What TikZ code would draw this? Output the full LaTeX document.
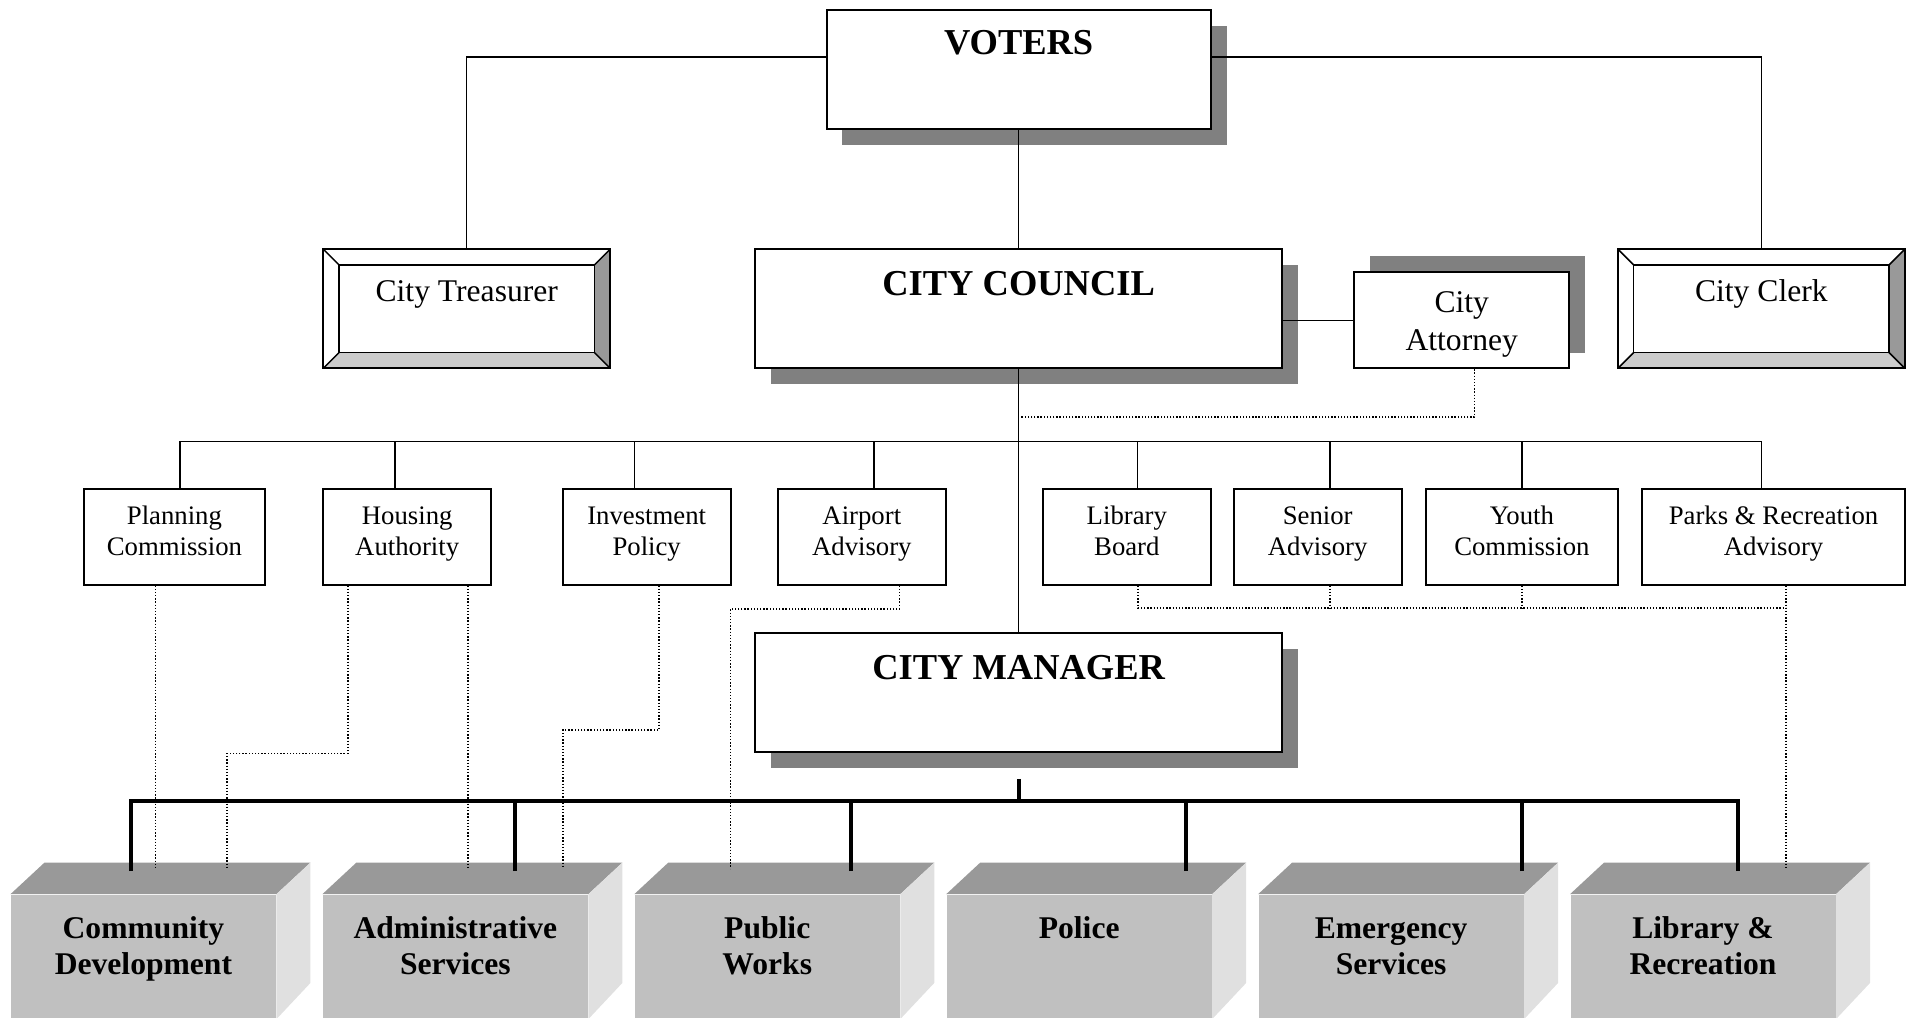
\documentclass[tikz,border=0pt]{standalone}
\usepackage{fontspec}
\setmainfont{Liberation Serif}
\usetikzlibrary{shadows}
\definecolor{shadowgray}{HTML}{808080}
\definecolor{bevelR}{HTML}{999999}
\definecolor{bevelB}{HTML}{CCCCCC}
\definecolor{dfront}{HTML}{C0C0C0}
\definecolor{dtop}{HTML}{999999}
\definecolor{dside}{HTML}{E0E0E0}
\tikzset{
  conn/.style={line width=0.55pt},
  dotline/.style={line width=0.7pt, dash pattern=on 0.55pt off 0.75pt},
  mline/.style={line width=1.6pt},
  mainbox/.style={draw, line width=0.8pt, fill=white, inner sep=0pt, minimum height=49pt,
    font=\bfseries\fontsize{15}{18}\selectfont, text height=19pt, text depth=30pt,
    drop shadow={shadow xshift=6.5pt, shadow yshift=-6.5pt, fill=shadowgray, opacity=1}},
  attbox/.style={draw, line width=0.8pt, fill=white, inner sep=0pt, minimum width=88.5pt,
    minimum height=39.5pt, align=center, font=\fontsize{13}{15.5}\selectfont,
    text height=32pt, text depth=7.5pt,
    drop shadow={shadow xshift=6.5pt, shadow yshift=6.5pt, fill=shadowgray, opacity=1}},
  board/.style={draw, line width=0.8pt, fill=white, inner sep=0pt, minimum width=69pt,
    minimum height=39.5pt, align=center, font=\fontsize{11}{12.75}\selectfont,
    text height=27.5pt, text depth=12pt},
  dept/.style={fill=dfront, inner sep=0pt, minimum width=109pt, minimum height=51pt,
    align=center, font=\bfseries\fontsize{13}{15}\selectfont,
    text height=33pt, text depth=18pt},
  bevel/.style={draw, line width=0.8pt, fill=white, inner sep=0pt, minimum width=118pt,
    minimum height=49pt, font=\fontsize{13}{15}\selectfont,
    text height=21.5pt, text depth=27.5pt,
    path picture={
      \path (path picture bounding box.north west) coordinate (bNW)
            (path picture bounding box.north east) coordinate (bNE)
            (path picture bounding box.south east) coordinate (bSE)
            (path picture bounding box.south west) coordinate (bSW);
      \fill[bevelR] (bNE) -- (bSE) -- ([shift={(-6.5pt,6.5pt)}]bSE)
            -- ([shift={(-6.5pt,-6.5pt)}]bNE) -- cycle;
      \fill[bevelB] (bSW) -- (bSE) -- ([shift={(-6.5pt,6.5pt)}]bSE)
            -- ([shift={(6.5pt,6.5pt)}]bSW) -- cycle;
      \draw[line width=0.6pt] ([shift={(6.5pt,-6.5pt)}]bNW) rectangle ([shift={(-6.5pt,6.5pt)}]bSE);
      \draw[line width=0.6pt] (bNW) -- ([shift={(6.5pt,-6.5pt)}]bNW)
            (bNE) -- ([shift={(-6.5pt,-6.5pt)}]bNE)
            (bSE) -- ([shift={(-6.5pt,6.5pt)}]bSE)
            (bSW) -- ([shift={(6.5pt,6.5pt)}]bSW);
    }},
}
\begin{document}
\begin{tikzpicture}[x=0.5pt, y=-0.5pt]
\useasboundingbox (0,0) rectangle (1568,837);

% top level
\node[mainbox, minimum width=158pt, text height=18.5pt, text depth=30.5pt] (voters) at (838,57) {VOTERS};
\node[mainbox, minimum width=217pt] (council) at (838,254) {CITY COUNCIL};
\node[bevel] (treasurer) at (384,254) {City Treasurer};
\node[bevel] (clerk) at (1449,254) {City Clerk};
\node[attbox] (attorney) at (1202.5,263.5) {City\\Attorney};
\node[mainbox, minimum width=217pt] (manager) at (838,570) {CITY MANAGER};

% boards
\node[board, minimum width=74.5pt] (planning) at (143.5,441.5) {Planning\\Commission};
\node[board] (housing) at (335,441.5) {Housing\\Authority};
\node[board] (investment) at (532,441.5) {Investment\\Policy};
\node[board] (airport) at (709,441.5) {Airport\\Advisory};
\node[board] (library) at (927,441.5) {Library\\Board};
\node[board] (senior) at (1084,441.5) {Senior\\Advisory};
\node[board, minimum width=79pt] (youth) at (1252,441.5) {Youth\\Commission};
\node[board, minimum width=108pt] (parks) at (1459,441.5) {Parks \& Recreation\\Advisory};

% departments
\node[dept] (cd) at (118,787) {Community\\Development};
\node[dept] (ad) at (374.6,787) {Administrative\\Services};
\node[dept] (pw) at (631.2,787) {Public\\Works};
\node[dept, text height=18pt, text depth=33pt] (po) at (887.8,787) {Police};
\node[dept] (es) at (1144.4,787) {Emergency\\Services};
\node[dept] (lr) at (1401,787) {Library \&\\Recreation};
\foreach \n in {cd,ad,pw,po,es,lr}{
  \fill[dtop] (\n.north west) -- (\n.north east) -- ([shift={(28,-26)}]\n.north east)
     -- ([shift={(28,-26)}]\n.north west) -- cycle;
  \fill[dside] (\n.north east) -- ([shift={(28,-26)}]\n.north east)
     -- ([shift={(28,73)}]\n.north east) -- (\n.south east) -- cycle;
}

% connectors, top
\draw[conn] ([yshift=5pt]voters.west) -| (treasurer.north);
\draw[conn] ([yshift=5pt]voters.east) -| (clerk.north);
\draw[conn] (voters.south) -- (council.north);
\draw[conn] (attorney.west) -- (attorney.west -| council.east);
\draw[conn] (council.south) -- (manager.north);

% council to boards
\coordinate (cbar) at (838,363);
\draw[conn] ([xshift=2.25pt]planning.north) |- (cbar);
\draw[conn] ([xshift=-5pt]housing.north) |- (cbar);
\draw[conn] ([xshift=-5pt]investment.north) |- (cbar);
\draw[conn] ([xshift=5pt]airport.north) |- (cbar);
\draw[conn] ([xshift=4.5pt]library.north) |- (cbar);
\draw[conn] ([xshift=5pt]senior.north) |- (cbar);
\draw[conn] (youth.north) |- (cbar);
\draw[conn] ([xshift=-5pt]parks.north) |- (cbar);

% attorney dotted
\coordinate (adot) at (840,343);
\draw[dotline] ([xshift=5.25pt]attorney.south) |- (adot);

% manager to departments
\coordinate (mbar) at (838,659);
\draw[mline] ([yshift=-10.5pt]manager.south) -- (mbar);
\draw[mline] ([xshift=-5pt,yshift=9.5pt]cd.north) |- (mbar);
\draw[mline] ([xshift=24.7pt,yshift=9.5pt]ad.north) |- (mbar);
\draw[mline] ([xshift=34.4pt,yshift=9.5pt]pw.north) |- (mbar);
\draw[mline] ([xshift=44.1pt,yshift=9.5pt]po.north) |- (mbar);
\draw[mline] ([xshift=53.8pt,yshift=9.5pt]es.north) |- (mbar);
\draw[mline] ([xshift=14.5pt,yshift=9.5pt]lr.north) |- (mbar);

% boards to departments (dotted)
\draw[dotline] ([xshift=-7.75pt]planning.south) -- ([xshift=5pt,yshift=10.5pt]cd.north);
\draw[dotline] ([xshift=-24.5pt]housing.south) -- ++(0,138) -| ([xshift=34.5pt,yshift=10.5pt]cd.north);
\draw[dotline] ([xshift=25pt]housing.south) -- ([xshift=5.2pt,yshift=10.5pt]ad.north);
\draw[dotline] ([xshift=5pt]investment.south) -- ++(0,119) -| ([xshift=44.2pt,yshift=10.5pt]ad.north);
\draw[dotline] ([xshift=15.5pt]airport.south) -- ++(0,19) -| ([xshift=-15.1pt,yshift=10.5pt]pw.north);
\coordinate (pj) at (1469,500);
\draw[dotline] ([xshift=4.5pt]library.south) |- (pj);
\draw[dotline] ([xshift=5pt]senior.south) -- ++(0,19);
\draw[dotline] (youth.south) -- ++(0,19);
\draw[dotline] ([xshift=5pt]parks.south) -- ([xshift=34pt,yshift=10.5pt]lr.north);
\end{tikzpicture}
\end{document}
